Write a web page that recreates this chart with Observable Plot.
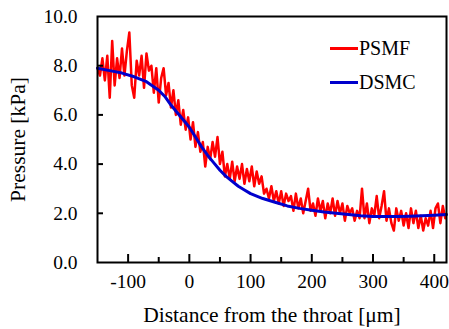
<!DOCTYPE html>
<html>
<head>
<meta charset="utf-8">
<script src="https://cdn.jsdelivr.net/npm/d3@7"></script>
<script src="https://cdn.jsdelivr.net/npm/@observablehq/plot@0.6"></script>
<style>
  html, body { margin: 0; padding: 0; background: #fff; }
  #wrap { position: relative; width: 449px; height: 329px; }
  .leg { position: absolute; left: 330px; font-size: 20px; color: #000; display: flex; align-items: center; line-height: 1; font-family: "Liberation Serif", "Times New Roman", serif; }
  .leg span.sw { display: inline-block; width: 28px; height: 3px; margin-right: 1px; }
  #wrap g[aria-label="x-axis label"] text, #wrap g[aria-label="y-axis label"] text { font-size: 21.5px !important; }
</style>
</head>
<body>
<div id="wrap"></div>
<script>
// PSMF (noisy) series: x positions [µm] and pressure [kPa]
const psmfX = [
  -150,-146,-142,-138,-134,-130,-126,-122,-118,-114,-110,-106,-102,-98,-94,-90,-86,-82,-78,-74,
  -70,-66,-62,-58,-54,-50,-46,-42,-38,-34,-30,-26,-22,-18,-14,-10,-6,-2,2,6,
  10,14,18,22,26,30,34,38,42,46,50,54,58,62,66,70,74,78,82,86,
  90,94,98,102,106,110,114,118,122,126,130,134,138,142,146,150,154,158,162,166,
  170,174,178,182,186,190,194,198,202,206,210,214,218,222,226,230,234,238,242,246,
  250,254,258,262,266,270,274,278,282,286,290,294,298,302,306,310,314,318,322,326,
  330,334,338,342,346,350,354,358,362,366,370,374,378,382,386,390,394,398,402,406,
  410,414,418
];
const psmfP = [
  7.9,7.6,8.3,7.4,8.4,6.7,9.0,7.2,8.3,7.5,8.7,7.6,8.6,9.35,7.2,6.7,8.2,7.6,8.4,7.1,
  8.5,7.8,8.0,6.9,7.9,6.5,7.5,7.9,6.8,7.3,6.3,7.0,6.0,6.6,5.6,6.2,5.4,5.9,5.0,5.7,
  4.7,5.3,4.5,4.9,3.9,4.7,4.2,4.9,4.3,5.1,4.0,4.5,3.5,4.0,3.4,4.1,3.3,3.9,3.4,4.0,
  3.2,3.8,3.3,3.9,3.1,3.7,3.2,3.5,2.8,3.0,2.6,3.1,2.5,2.9,2.4,2.9,2.3,2.8,2.5,2.7,
  2.1,2.8,2.2,2.6,2.0,2.5,3.0,2.1,2.4,1.9,2.6,2.1,2.5,1.8,2.4,2.0,2.6,1.9,2.5,2.0,
  2.4,1.7,2.3,2.0,2.2,1.7,2.1,1.8,3.0,1.8,2.4,1.6,2.2,1.9,2.7,1.8,2.3,2.9,1.7,2.2,
  1.6,1.3,2.2,1.7,2.1,1.5,2.0,1.4,2.2,1.6,2.1,1.4,1.9,1.3,1.8,1.5,2.1,1.4,2.2,2.4,
  1.6,2.3,1.8
];
// DSMC (smooth) series
const dsmcX = [-150,-130,-110,-90,-70,-50,-40,-30,-20,-10,0,10,20,30,40,50,60,70,80,90,100,120,140,160,180,200,220,240,260,280,300,320,340,360,380,400,420];
const dsmcP = [7.9,7.8,7.7,7.55,7.35,7.0,6.75,6.4,6.1,5.8,5.5,5.1,4.7,4.35,4.05,3.75,3.5,3.3,3.1,2.95,2.8,2.6,2.45,2.3,2.2,2.12,2.05,2.0,1.95,1.9,1.87,1.87,1.87,1.88,1.9,1.92,1.95];

const xMajorTicks = [-100, 0, 100, 200, 300, 400];
const xMinorTicks = [-50, 50, 150, 250, 350];
const yTicks = [0, 2, 4, 6, 8, 10];
const yInnerTicks = [2, 4, 6, 8];
const seriesNames = ["PSMF", "DSMC"];
const seriesColors = ["#ff0000", "#0000cc"];

const xDomain = [-150, 420];
const yDomain = [0, 10];

const psmf = psmfX.map((x, i) => ({x, p: psmfP[i]}));
const dsmc = dsmcX.map((x, i) => ({x, p: dsmcP[i]}));

const W = 449, H = 329, ML = 97, MR = 3, MT = 16, MB = 67;
const innerW = W - ML - MR, innerH = H - MT - MB;
// convert pixel tick lengths into data units of each scale
const yPerPx = (yDomain[1] - yDomain[0]) / innerH;
const xPerPx = (xDomain[1] - xDomain[0]) / innerW;

const chart = Plot.plot({
  width: W,
  height: H,
  marginLeft: ML,
  marginRight: MR,
  marginTop: MT,
  marginBottom: MB,
  style: {fontSize: "19.5px", fontFamily: "Liberation Serif", color: "#000", background: "#fff", overflow: "visible"},
  x: {domain: xDomain},
  y: {domain: yDomain},
  marks: [
    Plot.line(psmf, {x: "x", y: "p", stroke: seriesColors[0], strokeWidth: 2.5}),
    Plot.line(dsmc, {x: "x", y: "p", stroke: seriesColors[1], strokeWidth: 3}),
    // inward ticks
    Plot.ruleX(xMajorTicks, {x: d => d, y1: yDomain[0], y2: yDomain[0] + 8 * yPerPx, stroke: "#000", strokeWidth: 2}),
    Plot.ruleX(xMinorTicks, {x: d => d, y1: yDomain[0], y2: yDomain[0] + 5 * yPerPx, stroke: "#000", strokeWidth: 2}),
    Plot.ruleY(yInnerTicks, {y: d => d, x1: xDomain[0], x2: xDomain[0] + 6 * xPerPx, stroke: "#000", strokeWidth: 2}),
    Plot.frame({stroke: "#000", strokeWidth: 2}),
    // labels
    Plot.axisX(xMajorTicks, {tickSize: 0, tickPadding: 12, tickFormat: d => String(d), label: "Distance from the throat [μm]", labelAnchor: "center", labelOffset: 59, labelArrow: "none"}),
    Plot.axisY(yTicks, {tickSize: 0, tickPadding: 20, tickFormat: d => d.toFixed(1), label: "Pressure [kPa]", labelAnchor: "center", labelOffset: 88, labelArrow: "none"})
  ]
});

const wrap = document.getElementById("wrap");
wrap.appendChild(chart);

seriesNames.forEach((name, i) => {
  const d = document.createElement("div");
  d.className = "leg";
  d.style.top = (i === 0 ? 38 : 72) + "px";
  const sw = document.createElement("span");
  sw.className = "sw";
  sw.style.background = seriesColors[i];
  d.appendChild(sw);
  d.appendChild(document.createTextNode(name));
  wrap.appendChild(d);
});
</script>
</body>
</html>
